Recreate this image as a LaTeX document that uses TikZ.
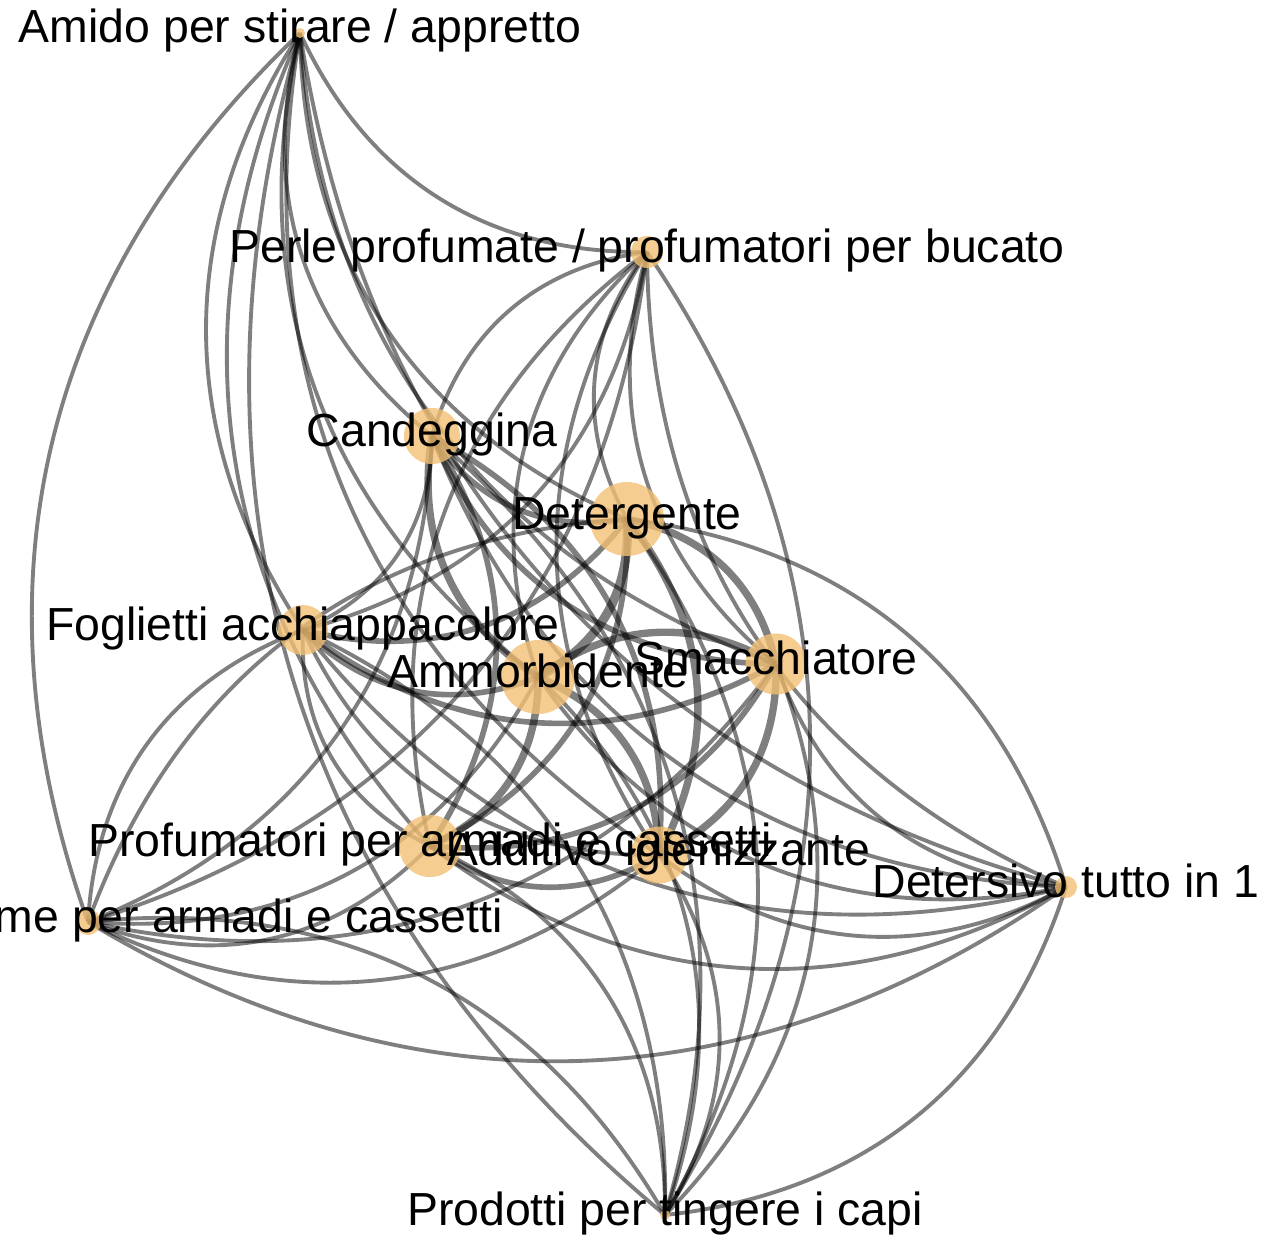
\documentclass[tikz,border=0pt]{standalone}
\usepackage{fontspec}
\setmainfont{Liberation Sans}
\usetikzlibrary{backgrounds}
\definecolor{nodeorange}{RGB}{242,192,117}
\tikzset{
  vert/.style={circle, fill=nodeorange, fill opacity=0.8, inner sep=0pt, minimum size=#1},
  lab/.style={anchor=base, font=\fontsize{26.4}{30}\selectfont, inner sep=0pt},
  link/.style={draw=black, draw opacity=0.5, line width=#1, bend left=33},
}
\begin{document}
\begin{tikzpicture}[x=0.02cm, y=-0.02cm]
\useasboundingbox (0,0) rectangle (1268,1244);

% vertices
\foreach \n/\x/\y/\d in {De/627/519/1.48, Dt/1066/887/0.44, An/538/677/1.48, Sm/776/664/1.22,
    Ca/432/436/1.12, Ad/659/855/1.14, Pr/430/846/1.24, Pe/647/252/0.64,
    Ta/88/922/0.52, Fo/303/630/1.0, Ti/665/1215/0.2, Am/300/33/0.2}
  \node[vert=\d cm] (\n) at (\x,\y) {};

% co-occurrence links
\begin{scope}[on background layer]
\foreach \a/\b/\w in {De/Dt/2.2, De/An/5.2, De/Sm/4.2, De/Ca/3.2, De/Ad/4.2, De/Pr/3.2,
    De/Pe/2.2, Ta/De/2.2, De/Fo/3.2, De/Ti/2.2, De/Am/2.2,
    Dt/An/2.2, Dt/Sm/2.2, Dt/Ca/2.2, Dt/Ad/2.2, Dt/Pr/2.2, Dt/Pe/2.2, Dt/Ta/2.2,
    Dt/Fo/2.2, Dt/Ti/2.2, Dt/Am/2.2,
    An/Sm/4.2, An/Ca/4.2, An/Ad/4.2, An/Pr/4.2, An/Pe/2.2, An/Ta/2.2,
    An/Fo/3.2, An/Ti/2.2, An/Am/2.2,
    Sm/Ca/3.2, Sm/Ad/4.2, Sm/Pr/3.2, Sm/Pe/2.2, Sm/Ta/2.2, Sm/Fo/3.2,
    Sm/Ti/2.2, Sm/Am/2.2,
    Ca/Ad/3.2, Ca/Pr/3.2, Ca/Pe/2.2, Ca/Ta/2.2, Ca/Fo/2.2, Ca/Ti/2.2, Ca/Am/2.2,
    Ad/Pr/3.2, Ad/Pe/2.2, Ad/Ta/2.2, Ad/Fo/2.2, Ad/Ti/2.2, Ad/Am/2.2,
    Pr/Pe/2.2, Pr/Ta/2.2, Pr/Fo/2.2, Pr/Ti/2.2, Pr/Am/2.2,
    Pe/Ta/2.2, Pe/Fo/2.2, Pe/Ti/2.2, Pe/Am/2.2,
    Ta/Fo/2.2, Ta/Ti/2.2, Ta/Am/2.2,
    Fo/Ti/2.2, Fo/Am/2.2,
    Ti/Am/2.2}
  \draw[link=\w pt] (\a.center) to (\b.center);
\end{scope}

% labels
\foreach \n/\t in {De/Detergente, An/Ammorbidente, Sm/Smacchiatore, Ca/Candeggina,
    Ad/Additivo igienizzante, Dt/Detersivo tutto in 1, Pr/Profumatori per armadi e cassetti,
    Fo/Foglietti acchiappacolore, Pe/{Perle profumate / profumatori per bucato},
    Ti/Prodotti per tingere i capi, Am/{Amido per stirare / appretto}}
  \node[lab] (\n-t) at ([yshift=-0.2cm]\n.center) {\t};
\node[lab, anchor=base east] (Ta-t) at ([yshift=-0.2cm]503,922) {me per armadi e cassetti};
\end{tikzpicture}
\end{document}
